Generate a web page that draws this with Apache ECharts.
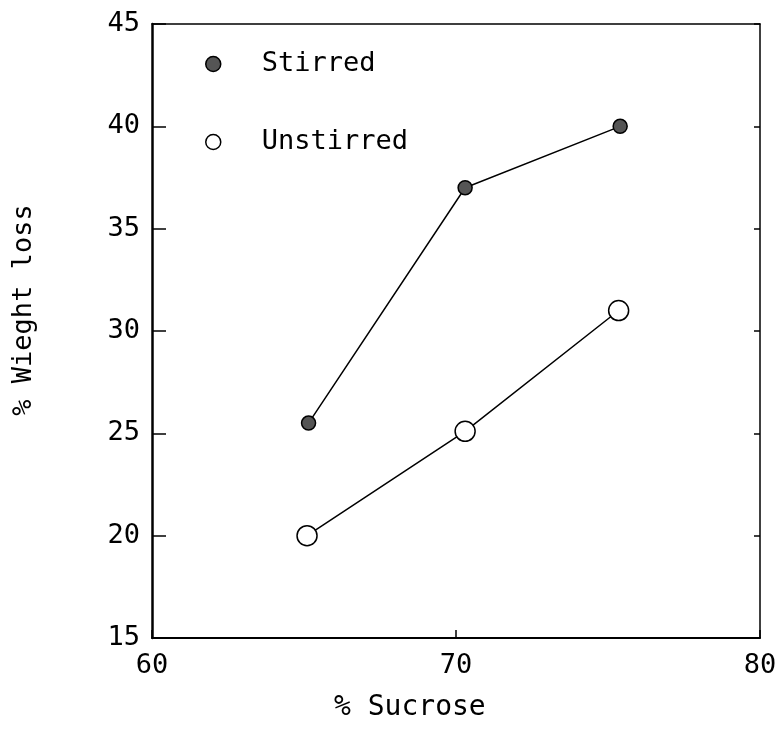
<!DOCTYPE html>
<html>
<head>
<meta charset="utf-8">
<script src="https://cdn.jsdelivr.net/npm/echarts@6/dist/echarts.min.js"></script>
<style>html,body{margin:0;padding:0;background:#fff}#c{width:782px;height:749px}</style>
</head>
<body>
<div id="c"></div>
<script>
var seriesNames = ['Stirred', 'Unstirred'];
var stirredX = [65.15, 70.3, 75.4];
var stirredY = [25.5, 37.0, 40.0];
var unstirredX = [65.1, 70.3, 75.35];
var unstirredY = [20.0, 25.1, 31.0];
var xTicks = [60, 70, 80];
var yTicks = [15, 20, 25, 30, 35, 40, 45];
var xTitle = '% Sucrose';
var yTitle = '% Wieght loss';

function pairs(xs, ys) { return xs.map(function (x, i) { return [x, ys[i]]; }); }

var font = 'DejaVu Sans Mono';
var chart = echarts.init(document.getElementById('c'));
chart.setOption({
  animation: false,
  backgroundColor: '#fff',
  grid: { left: 152, right: 22, top: 24, bottom: 111 },
  legend: {
    left: 200, top: 41, orient: 'vertical', itemGap: 42,
    itemWidth: 15, itemHeight: 17,
    textStyle: { fontFamily: font, fontSize: 27, color: '#000', padding: [0, 0, 0, 36], lineHeight: 36 },
    data: [
      { name: seriesNames[0], icon: 'circle', itemStyle: { color: '#555', borderColor: '#000', borderWidth: 1.5 } },
      { name: seriesNames[1], icon: 'circle', itemStyle: { color: '#fff', borderColor: '#000', borderWidth: 1.5 } }
    ]
  },
  graphic: [
    { type: 'text', left: 334, top: 694, style: { text: xTitle, font: '28px "DejaVu Sans Mono"', fill: '#000' } },
    { type: 'text', x: 24, y: 310, rotation: Math.PI / 2, style: { text: yTitle, font: '27px "DejaVu Sans Mono"', fill: '#000', align: 'center', verticalAlign: 'middle' } }
  ],
  xAxis: [{
    type: 'value', min: xTicks[0], max: xTicks[xTicks.length - 1], interval: 10,
    axisLine: { lineStyle: { color: '#000', width: 2 } },
    axisTick: { inside: true, length: 8, lineStyle: { color: '#000', width: 1.5 } },
    axisLabel: { fontFamily: font, fontSize: 27, color: '#000', margin: 14 },
    splitLine: { show: false }
  }, {
    type: 'value', position: 'top', min: xTicks[0], max: xTicks[xTicks.length - 1], interval: 10,
    axisLine: { show: true, lineStyle: { color: '#000', width: 1.5 } },
    axisTick: { show: false }, axisLabel: { show: false }, splitLine: { show: false }
  }],
  yAxis: [{
    type: 'value', min: yTicks[0], max: yTicks[yTicks.length - 1], interval: 5,
    axisLine: { show: true, lineStyle: { color: '#000', width: 2.5 } },
    axisTick: { inside: true, length: 14, lineStyle: { color: '#000', width: 1.5 } },
    axisLabel: { fontFamily: font, fontSize: 27, color: '#000', margin: 12 },
    splitLine: { show: false }
  }, {
    type: 'value', position: 'right', min: yTicks[0], max: yTicks[yTicks.length - 1], interval: 5,
    axisLine: { show: true, lineStyle: { color: '#000', width: 1.5 } },
    axisTick: { inside: true, length: 6, lineStyle: { color: '#000', width: 1.5 } },
    axisLabel: { show: false }, splitLine: { show: false }
  }],
  series: [{
    name: seriesNames[0], type: 'line', data: pairs(stirredX, stirredY),
    symbol: 'circle', symbolSize: 14,
    itemStyle: { color: '#555', borderColor: '#000', borderWidth: 1.5 },
    lineStyle: { color: '#000', width: 1.5 }
  }, {
    name: seriesNames[1], type: 'line', data: pairs(unstirredX, unstirredY),
    symbol: 'circle', symbolSize: 20,
    itemStyle: { color: '#fff', borderColor: '#000', borderWidth: 1.5 },
    lineStyle: { color: '#000', width: 1.5 }
  }]
});
</script>
</body>
</html>
